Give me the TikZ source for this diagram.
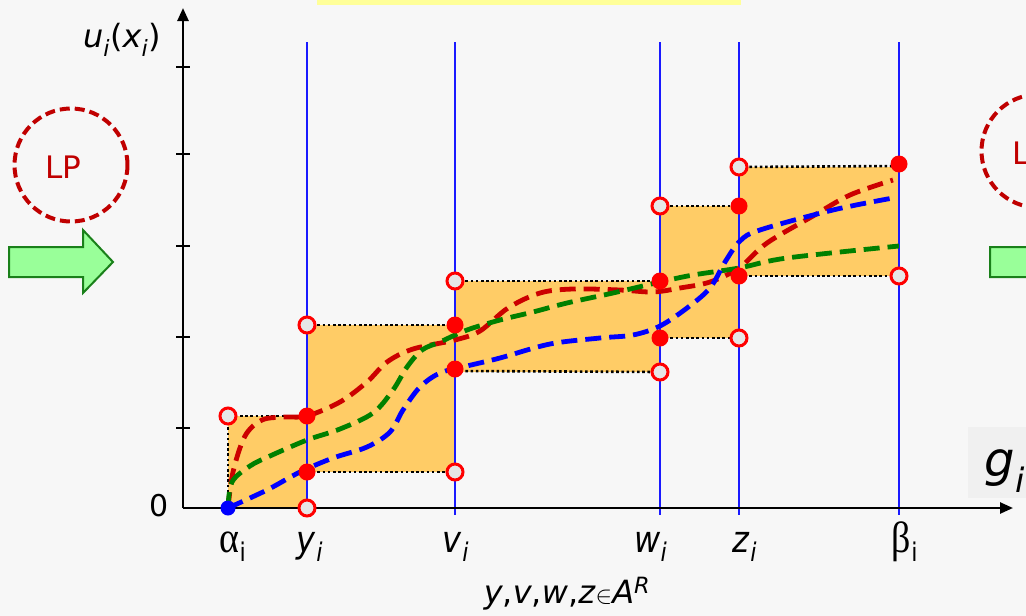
\documentclass[tikz,border=0pt]{standalone}
\usepackage{fontspec}
\setmainfont{DejaVu Sans}
\newfontfamily\greekfont{Liberation Serif}
\usetikzlibrary{arrows.meta}
\definecolor{bgc}{HTML}{F7F7F7}
\definecolor{yel}{HTML}{FFFF99}
\definecolor{org}{HTML}{FFCC66}
\definecolor{vblue}{HTML}{1A1AFF}
\definecolor{cred}{HTML}{CC0000}
\definecolor{cgreen}{HTML}{008000}
\definecolor{cblue}{HTML}{0000FF}
\definecolor{dred}{HTML}{FF0000}
\definecolor{ofill}{HTML}{E6E6E6}
\definecolor{lpred}{HTML}{C00000}
\definecolor{agreen}{HTML}{99FF99}
\definecolor{adgreen}{HTML}{1A801A}
\definecolor{gbox}{HTML}{F0F0F0}
\tikzset{
  boxfill/.style={fill=org, draw=none},
  dotline/.style={draw=black, line width=2.6pt, dash pattern=on 2.6pt off 2.6pt},
  vline/.style={draw=vblue, line width=2pt},
  axisline/.style={draw=black, line width=2.5pt, -{Triangle[length=13pt,width=11pt]}},
  tickline/.style={draw=black, line width=2pt},
  curve/.style={line width=4.8pt, dash pattern=on 16pt off 8pt, smooth, tension=0.55},
  opendot/.style={circle, draw=dred, line width=3pt, fill=ofill, inner sep=0pt, minimum size=16pt},
  fulldot/.style={circle, fill=dred, inner sep=0pt, minimum size=17pt},
  bluedot/.style={circle, fill=cblue, inner sep=0pt, minimum size=15pt},
  lpcircle/.style={circle, draw=lpred, line width=4pt, dash pattern=on 10pt off 5pt, minimum size=113pt, inner sep=0pt},
  lptext/.style={text=lpred, font=\fontsize{31}{36}\selectfont},
  garrow/.style={fill=agreen, draw=adgreen, line width=2pt, line join=miter},
  axlab/.style={font=\fontsize{32}{36}\selectfont, anchor=base, yscale=1.15},
}
\newcommand{\itsub}[1]{\textsubscript{\textit{#1}}}
\begin{document}
\begin{tikzpicture}[x=1pt,y=-1pt]
\useasboundingbox (0,0) rectangle (1026,616);
\clip (0,0) rectangle (1026,616);
\fill[bgc] (0,0) rectangle (1026,616);
\fill[yel] (317,0) rectangle (741,5);
\fill[gbox] (968,427) rectangle (1026,498);

% dot positions
\coordinate (aB) at (228,508); \coordinate (aT) at (228,416);
\coordinate (yB) at (307,508); \coordinate (yL) at (307,472); \coordinate (yM) at (307,416); \coordinate (yT) at (307,325);
\coordinate (vL) at (455,472); \coordinate (vM) at (455,371); \coordinate (vU) at (455,325); \coordinate (vT) at (455,281);
\coordinate (wL) at (660,372); \coordinate (wM) at (660,338); \coordinate (wU) at (660,281); \coordinate (wT) at (660,206);
\coordinate (zL) at (739,338); \coordinate (zM) at (739,276); \coordinate (zU) at (739,206); \coordinate (zT) at (739,167);
\coordinate (bL) at (899,276); \coordinate (bT) at (899,166);

% boxes
\path[boxfill] (aT) rectangle (yB);
\path[boxfill] (yT) rectangle (vL);
\path[boxfill] (vT) rectangle (wL);
\path[boxfill] (wT) rectangle (zL);
\path[boxfill] (zT) rectangle (bL);
\draw[dotline] (aB) -- (aT) -- (yM);
\draw[dotline] (yT) -- (vU);
\draw[dotline] (yL) -- (vL);
\draw[dotline] (vT) -- (wU);
\draw[dotline] (vM) -- (wL);
\draw[dotline] (wT) -- (zU);
\draw[dotline] (wM) -- (zL);
\draw[dotline] (zT) -- (bT);
\draw[dotline] (zM) -- (bL);

% vertical blue lines
\foreach \x in {307,455,660,739,899} \draw[vline] (\x,42) -- (\x,515);

% axes
\coordinate (O) at (183,508);
\coordinate (ytip) at (183,8);
\coordinate (xtip) at (1013,508);
\draw[axisline] (O) -- (ytip);
\draw[axisline] (O) -- (xtip);
\foreach \t in {67,154,246,337,428} \draw[tickline] (176,\t) -- (190,\t);

% curves
\draw[curve, cred] plot coordinates {(228,508) (233,472) (245,436) (262,420) (285,417) (307,416) (340,402) (367,382) (387,362) (413,349) (455,340) (480,331) (508,308) (540,293) (573,289) (620,290) (653,292) (680,288) (710,282) (739,268) (767,243) (813,216) (850,195) (893,180)};
\draw[curve, cgreen] plot coordinates {(228,508) (232,482) (250,466) (270,456) (307,440) (340,429) (373,413) (393,390) (407,367) (422,350) (440,342) (467,330) (500,320) (533,312) (567,303) (613,293) (660,282) (693,275) (739,268) (787,258) (899,246)};
\draw[curve, cblue] plot coordinates {(228,508) (267,490) (300,472) (333,458) (367,447) (390,432) (403,410) (420,387) (440,373) (467,366) (500,358) (550,344) (600,338) (633,335) (660,326) (687,308) (710,288) (725,262) (740,241) (760,230) (833,210) (893,198)};

% dots
\node[bluedot] (naB) at (aB) {};
\node[opendot] (naT) at (aT) {};
\node[opendot] (nyB) at (yB) {};
\node[fulldot] (nyL) at (yL) {};
\node[fulldot] (nyM) at (yM) {};
\node[opendot] (nyT) at (yT) {};
\node[opendot] (nvL) at (vL) {};
\node[fulldot] (nvM) at (455,369) {};
\node[fulldot] (nvU) at (vU) {};
\node[opendot] (nvT) at (vT) {};
\node[opendot] (nwL) at (wL) {};
\node[fulldot] (nwM) at (wM) {};
\node[fulldot] (nwU) at (wU) {};
\node[opendot] (nwT) at (wT) {};
\node[opendot] (nzL) at (zL) {};
\node[fulldot] (nzM) at (zM) {};
\node[fulldot] (nzU) at (zU) {};
\node[opendot] (nzT) at (zT) {};
\node[opendot] (nbL) at (bL) {};
\node[fulldot] (nbT) at (899,164) {};

% labels
\node[font=\fontsize{32}{36}\selectfont] (ulab) at (122,40) {\textit{u}\itsub{i}(\textit{x}\itsub{i})};
\node[font=\fontsize{30}{34}\selectfont] (zero) at (159,506) {0};
\node[axlab] (la) at (233,552) {{\greekfont\fontsize{38}{40}\selectfont α}\textsubscript{i}};
\node[axlab] (ly) at (310,552) {\textit{y}\itsub{i}};
\node[axlab] (lv) at (456,552) {\textit{v}\itsub{i}};
\node[axlab] (lw) at (651,552) {\textit{w}\itsub{i}};
\node[axlab] (lz) at (745,552) {\textit{z}\itsub{i}};
\node[axlab] (lb) at (905,552) {{\greekfont\fontsize{38}{40}\selectfont β}\textsubscript{i}};
\node[font=\fontsize{32}{36}\selectfont, anchor=base] (set) at (567,603) {\textit{y},\textit{v},\textit{w},\textit{z}$\in$\textit{A}\textsuperscript{\textit{R}}};
\node[font=\fontsize{48}{54}\selectfont, anchor=base west] (glab) at (981,476) {\textit{g}\itsub{i}};

% LP circles
\node[lpcircle] (lp1) at (71,165) {};
\node[lptext] at ([xshift=-8pt,yshift=-2pt]lp1.center) {LP};
\node[lpcircle] (lp2) at (1038,151) {};
\node[lptext] at ([xshift=-8pt,yshift=-2pt]lp2.center) {LP};

% green arrows
\draw[garrow] (9,247) -- (83,247) -- (83,230) -- (113,262) -- (83,293) -- (83,277) -- (9,277) -- cycle;
\draw[garrow] (990,247) -- (1064,247) -- (1064,230) -- (1094,262) -- (1064,293) -- (1064,277) -- (990,277) -- cycle;
\end{tikzpicture}
\end{document}
